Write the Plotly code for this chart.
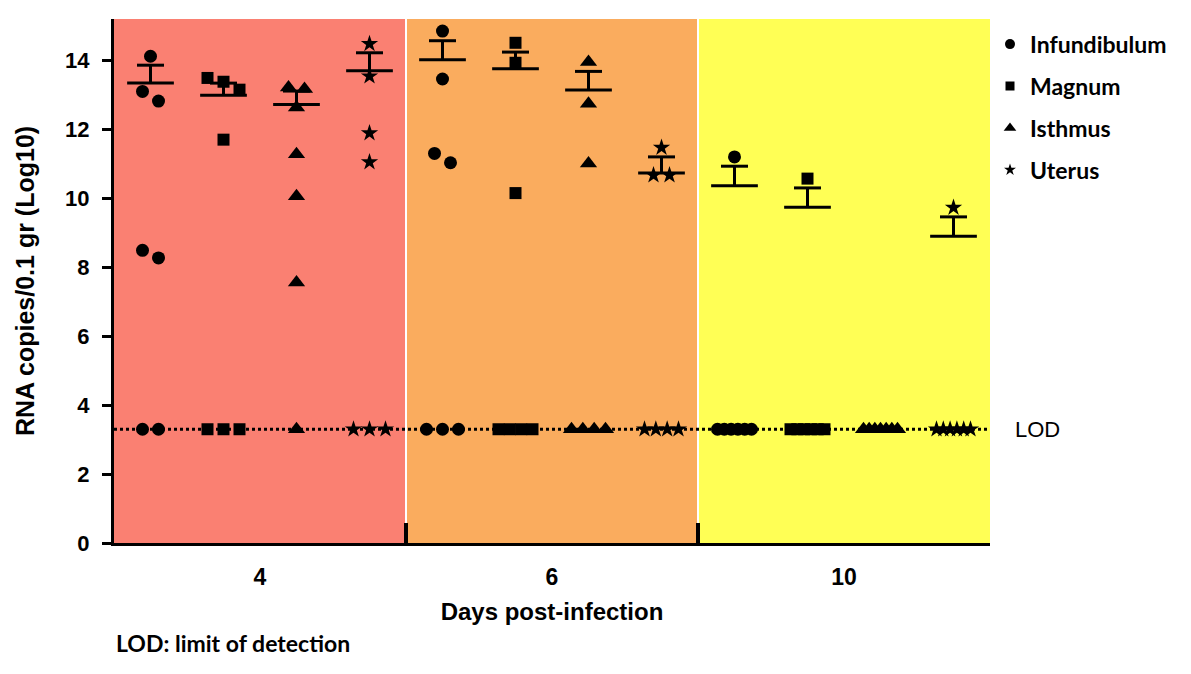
import plotly.graph_objects as go

DAYS = ["4", "6", "10"]
TISSUES = ["Infundibulum", "Magnum", "Isthmus", "Uterus"]
SYMBOLS = ["circle", "square", "triangle-up", "star"]
LOD = 3.3

# detected samples, log10 RNA copies / 0.1 g, one list per day
INFUNDIBULUM = [[14.12, 13.10, 12.82, 8.49, 8.27], [14.85, 13.46, 11.30, 11.03], [11.20]]
MAGNUM = [[13.49, 13.38, 13.15, 11.70], [14.51, 13.93, 10.15], [10.57]]
ISTHMUS = [[13.21, 13.17, 12.63, 11.28, 10.06, 7.56], [13.95, 12.74, 11.01], []]
UTERUS = [[14.48, 13.54, 11.89, 11.05], [11.47, 10.67, 10.67], [9.73]]

# samples sitting at the limit of detection
INFUNDIBULUM_AT_LOD = [2, 3, 6]
MAGNUM_AT_LOD = [3, 4, 6]
ISTHMUS_AT_LOD = [1, 4, 7]
UTERUS_AT_LOD = [3, 4, 6]

# mean and SEM bars
INFUNDIBULUM_MEAN = [13.34, 14.02, 10.36]
INFUNDIBULUM_SEM = [0.52, 0.55, 0.57]
MAGNUM_MEAN = [12.99, 13.76, 9.74]
MAGNUM_SEM = [0.35, 0.48, 0.56]
ISTHMUS_MEAN = [12.72, 13.14, None]
ISTHMUS_SEM = [0.39, 0.54, None]
UTERUS_MEAN = [13.70, 10.73, 8.90]
UTERUS_SEM = [0.52, 0.47, 0.56]

DETECTED = [INFUNDIBULUM, MAGNUM, ISTHMUS, UTERUS]
AT_LOD = [INFUNDIBULUM_AT_LOD, MAGNUM_AT_LOD, ISTHMUS_AT_LOD, UTERUS_AT_LOD]
MEANS = [INFUNDIBULUM_MEAN, MAGNUM_MEAN, ISTHMUS_MEAN, UTERUS_MEAN]
SEMS = [INFUNDIBULUM_SEM, MAGNUM_SEM, ISTHMUS_SEM, UTERUS_SEM]

BG_COLORS = ["#FA8072", "#FAAC5E", "#FFFF55"]
# page body adds 8px, so the figure is a bit smaller than the window
W, H = 1183, 666
MARGIN = dict(l=106, r=201, t=11, b=131, autoexpand=False)
PX_PER_UNIT = (W - MARGIN["l"] - MARGIN["r"]) / 12


def spread(n, step=16, max_width=34):
    if n < 2:
        return [0.0] * n
    step = min(step, max_width / (n - 1))
    return [(i - (n - 1) / 2) * step / PX_PER_UNIT for i in range(n)]


def swarm(values, gap=0.45):
    # prism-like: values close together go side by side on one row
    rows = []
    for v in sorted(values, reverse=True):
        if rows and rows[-1][-1] - v < gap:
            rows[-1].append(v)
        else:
            rows.append([v])
    offs, ys = [], []
    for row in rows:
        offs += spread(len(row))
        ys += row
    return offs, ys


fig = go.Figure()

for d in range(3):
    fig.add_shape(type="rect", xref="x", yref="paper", x0=d * 4, x1=d * 4 + 4, y0=0, y1=1,
                  fillcolor=BG_COLORS[d], line_width=0, layer="below")
for d in (1, 2):
    fig.add_shape(type="line", xref="x", yref="paper", x0=d * 4, x1=d * 4, y0=0, y1=1,
                  line=dict(color="white", width=2), layer="below")

fig.add_trace(go.Scatter(x=[0, 12], y=[LOD, LOD], mode="lines",
                         line=dict(color="black", width=3, dash="dot"),
                         showlegend=False, hoverinfo="skip"))

for t, name in enumerate(TISSUES):
    xs, ys = [], []
    bx, by = [], []
    for d in range(3):
        center = d * 4 + t + 0.5
        offs, vals = swarm(DETECTED[t][d])
        xs += [center + o for o in offs]
        ys += vals
        lod_offs = spread(AT_LOD[t][d])
        xs += [center + o for o in lod_offs]
        ys += [LOD] * len(lod_offs)

        m, s = MEANS[t][d], SEMS[t][d]
        if m is None:
            continue
        bx += [center - 0.32, center + 0.32, None, center, center, None,
               center - 0.185, center + 0.185, None]
        by += [m, m, None, m, m + s, None, m + s, m + s, None]

    fig.add_trace(go.Scatter(x=bx, y=by, mode="lines", line=dict(color="black", width=3),
                             showlegend=False, hoverinfo="skip"))
    fig.add_trace(go.Scatter(
        x=xs, y=ys, mode="markers", name=name, showlegend=False,
        marker=dict(symbol=SYMBOLS[t], size=[13, 12, 15, 13][t], color="black",
                    line=dict(width=0)),
    ))
    # small legend marker like the original key
    fig.add_trace(go.Scatter(
        x=[None], y=[None], mode="markers", name=name, legendgroup=name,
        marker=dict(symbol=SYMBOLS[t], size=[10, 9, 11, 9][t], color="black"),
    ))

ARIAL_BOLD = dict(family="Arial", color="black", weight="bold")

fig.update_layout(
    width=W, height=H,
    margin=MARGIN,
    plot_bgcolor="white", paper_bgcolor="white",
    showlegend=True,
    legend=dict(x=1.0, xanchor="left", y=0.993, yanchor="top",
                font=dict(family="Lato", size=23, color="black", weight="bold"),
                tracegroupgap=9, bgcolor="rgba(0,0,0,0)", itemclick=False),
    xaxis=dict(range=[0, 12], showgrid=False, zeroline=False, automargin=False,
               showline=True, linecolor="black", linewidth=3,
               tickmode="array", tickvals=[2, 6, 10], ticktext=DAYS, ticks="",
               ticklabelstandoff=11, tickfont=dict(ARIAL_BOLD, size=23),
               minor=dict(tickmode="array", tickvals=[4, 8], ticks="inside",
                          ticklen=20, tickwidth=4, tickcolor="black", showgrid=False),
               title=dict(text="Days post-infection", font=dict(ARIAL_BOLD, size=24), standoff=15)),
    yaxis=dict(range=[0, 15.2], showgrid=False, zeroline=False, automargin=False,
               showline=True, linecolor="black", linewidth=3,
               tickmode="array", tickvals=list(range(0, 15, 2)),
               ticks="outside", ticklen=9, tickwidth=2.5, tickcolor="black",
               ticklabelstandoff=8, tickfont=dict(ARIAL_BOLD, size=22),
               title=dict(text="RNA copies/0.1 gr (Log10)", font=dict(ARIAL_BOLD, size=25), standoff=24)),
    annotations=[
        dict(text="LOD", xref="paper", yref="y", x=1.026, y=LOD, xanchor="left",
             yanchor="middle", showarrow=False,
             font=dict(family="Arial", size=22, color="black")),
        dict(text="LOD: limit of detection", xref="paper", yref="paper", x=0.0, y=-0.19,
             xanchor="left", yanchor="middle", showarrow=False,
             font=dict(family="Lato", size=23, color="black", weight="bold")),
    ],
)

fig.write_html("out.html")
